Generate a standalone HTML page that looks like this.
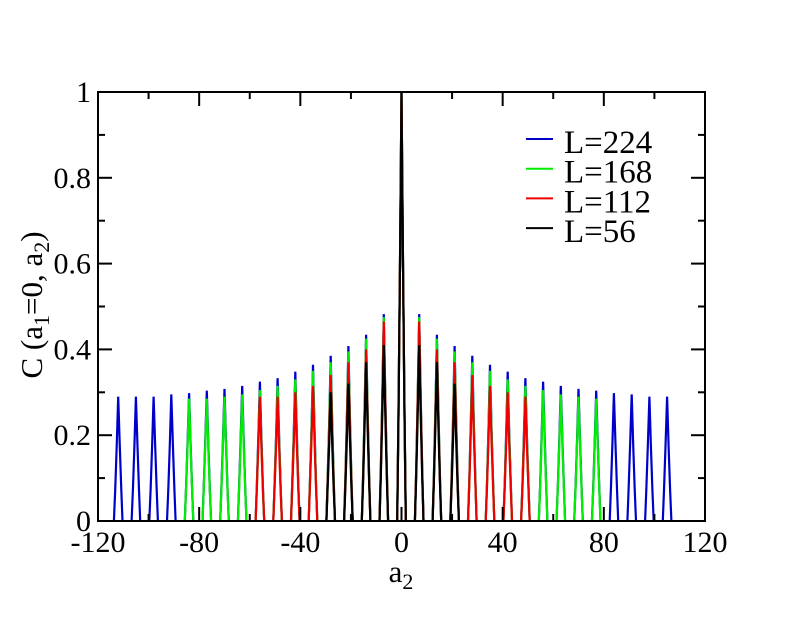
<!DOCTYPE html>
<html><head><meta charset="utf-8"><style>
body{margin:0;background:#fff}
svg text{font-family:"Liberation Serif",serif}
</style></head><body>
<svg id="chart" width="792" height="612" xmlns="http://www.w3.org/2000/svg">
<rect width="792" height="612" fill="#fff"/>
<g id="series"></g>
<rect x="98" y="92" width="607" height="429" fill="none" stroke="#000" stroke-width="2"/>
<g id="axes"></g>
<text x="401" y="582" font-size="31" text-anchor="middle">a<tspan font-size="22" dy="7">2</tspan></text>
<text transform="translate(42,305) rotate(-90)" font-size="31" text-anchor="middle">C (a<tspan font-size="22" dy="7">1</tspan><tspan dy="-7">=0, a</tspan><tspan font-size="22" dy="7">2</tspan><tspan dy="-7">)</tspan></text>
<g id="legend"></g>
</svg>
<script>
const seriesNames=["L=224","L=168","L=112","L=56"];
const seriesColors=["#0000cc","#00ee00","#ee0000","#000000"];
const peakPositions=[-112,-105,-98,-91,-84,-77,-70,-63,-56,-49,-42,-35,-28,-21,-14,-7,0,7,14,21,28,35,42,49,56,63,70,77,84,91,98,105];
const heightsL224=[0.29,0.29,0.29,0.295,0.298,0.304,0.308,0.315,0.325,0.333,0.348,0.364,0.385,0.408,0.434,0.482,1,0.482,0.434,0.408,0.385,0.364,0.348,0.333,0.325,0.315,0.308,0.304,0.298,0.295,0.29,0.29];
const heightsL168=[null,null,null,null,0.285,0.285,0.29,0.295,0.305,0.315,0.33,0.35,0.37,0.395,0.425,0.475,1,0.475,0.425,0.395,0.37,0.35,0.33,0.315,0.305,0.295,0.29,0.285,null,null,null,null];
const heightsL112=[null,null,null,null,null,null,null,null,0.29,0.29,0.3,0.315,0.34,0.37,0.4,0.465,1,0.465,0.4,0.37,0.34,0.315,0.3,0.29,null,null,null,null,null,null,null,null];
const heightsL56=[null,null,null,null,null,null,null,null,null,null,null,null,0.3,0.32,0.37,0.41,1,0.41,0.37,0.32,null,null,null,null,null,null,null,null,null,null,null,null];
const seriesHeights=[heightsL224,heightsL168,heightsL112,heightsL56];
const xTicks=[-120,-80,-40,0,40,80,120];
const yTicks=[0,0.2,0.4,0.6,0.8,1];
const yTickLabels=["0","0.2","0.4","0.6","0.8","1"];
const NS="http://www.w3.org/2000/svg";
const X0=98,X1=705,Y0=521,Y1=92;
const sx=v=>X0+(v+120)/240*(X1-X0);
const sy=v=>Y0-v*(Y0-Y1);
const sg=document.getElementById('series');
seriesHeights.forEach((hs,si)=>{
  let d="";
  peakPositions.forEach((p,i)=>{
    const h=hs[i]; if(h==null) return;
    const pts=[[p-1.7,0],[p-1.2,0.25*h],[p-0.6,0.6*h],[p,h],[p+0.6,0.6*h],[p+1.2,0.25*h],[p+1.7,0]];
    d+="M"+pts.map(q=>sx(q[0]).toFixed(1)+","+sy(q[1]).toFixed(1)).join("L");
  });
  const path=document.createElementNS(NS,'path');
  
  
  path.setAttribute('d',d);path.setAttribute('fill','none');
  path.setAttribute('stroke',seriesColors[si]);path.setAttribute('stroke-width','2.2');
  sg.appendChild(path);
});
const ax=document.getElementById('axes');
function line(x1,y1,x2,y2,name){const l=document.createElementNS(NS,'line');
  
  
  l.setAttribute('x1',x1);l.setAttribute('y1',y1);l.setAttribute('x2',x2);l.setAttribute('y2',y2);
  l.setAttribute('stroke','#000');l.setAttribute('stroke-width','2');ax.appendChild(l);}
function text(x,y,s,anchor,name){const t=document.createElementNS(NS,'text');
  
  
  t.setAttribute('x',x);t.setAttribute('y',y);t.setAttribute('font-size','30');t.setAttribute('text-anchor',anchor);
  t.textContent=s;ax.appendChild(t);return t;}
for(let v=-120;v<=120;v+=20){const major=(v%40===0);const L=major?14:7;
  line(sx(v),Y0,sx(v),Y0-L,'x-tick');line(sx(v),Y1,sx(v),Y1+L,'x-tick-top');}
for(let k=0;k<=10;k++){const v=k/10;const major=(k%2===0);const L=major?14:7;
  line(X0,sy(v),X0+L,sy(v),'y-tick');line(X1,sy(v),X1-L,sy(v),'y-tick-right');}
xTicks.forEach(v=>text(sx(v),552,String(v),'middle','x-tick-label'));
yTicks.forEach((v,i)=>text(91,sy(v)+10,yTickLabels[i],'end','y-tick-label'));
const lg=document.getElementById('legend');
seriesNames.forEach((n,i)=>{const y=153+i*29.7;
  const l=document.createElementNS(NS,'line');
  
  
  l.setAttribute('x1',526);l.setAttribute('x2',553);l.setAttribute('y1',y-14);l.setAttribute('y2',y-14);
  l.setAttribute('stroke',seriesColors[i]);l.setAttribute('stroke-width','2');lg.appendChild(l);
  const t=document.createElementNS(NS,'text');
  
  
  t.setAttribute('x',564);t.setAttribute('y',y);t.setAttribute('font-size','33');t.textContent=n;lg.appendChild(t);});
</script>
</body></html>
